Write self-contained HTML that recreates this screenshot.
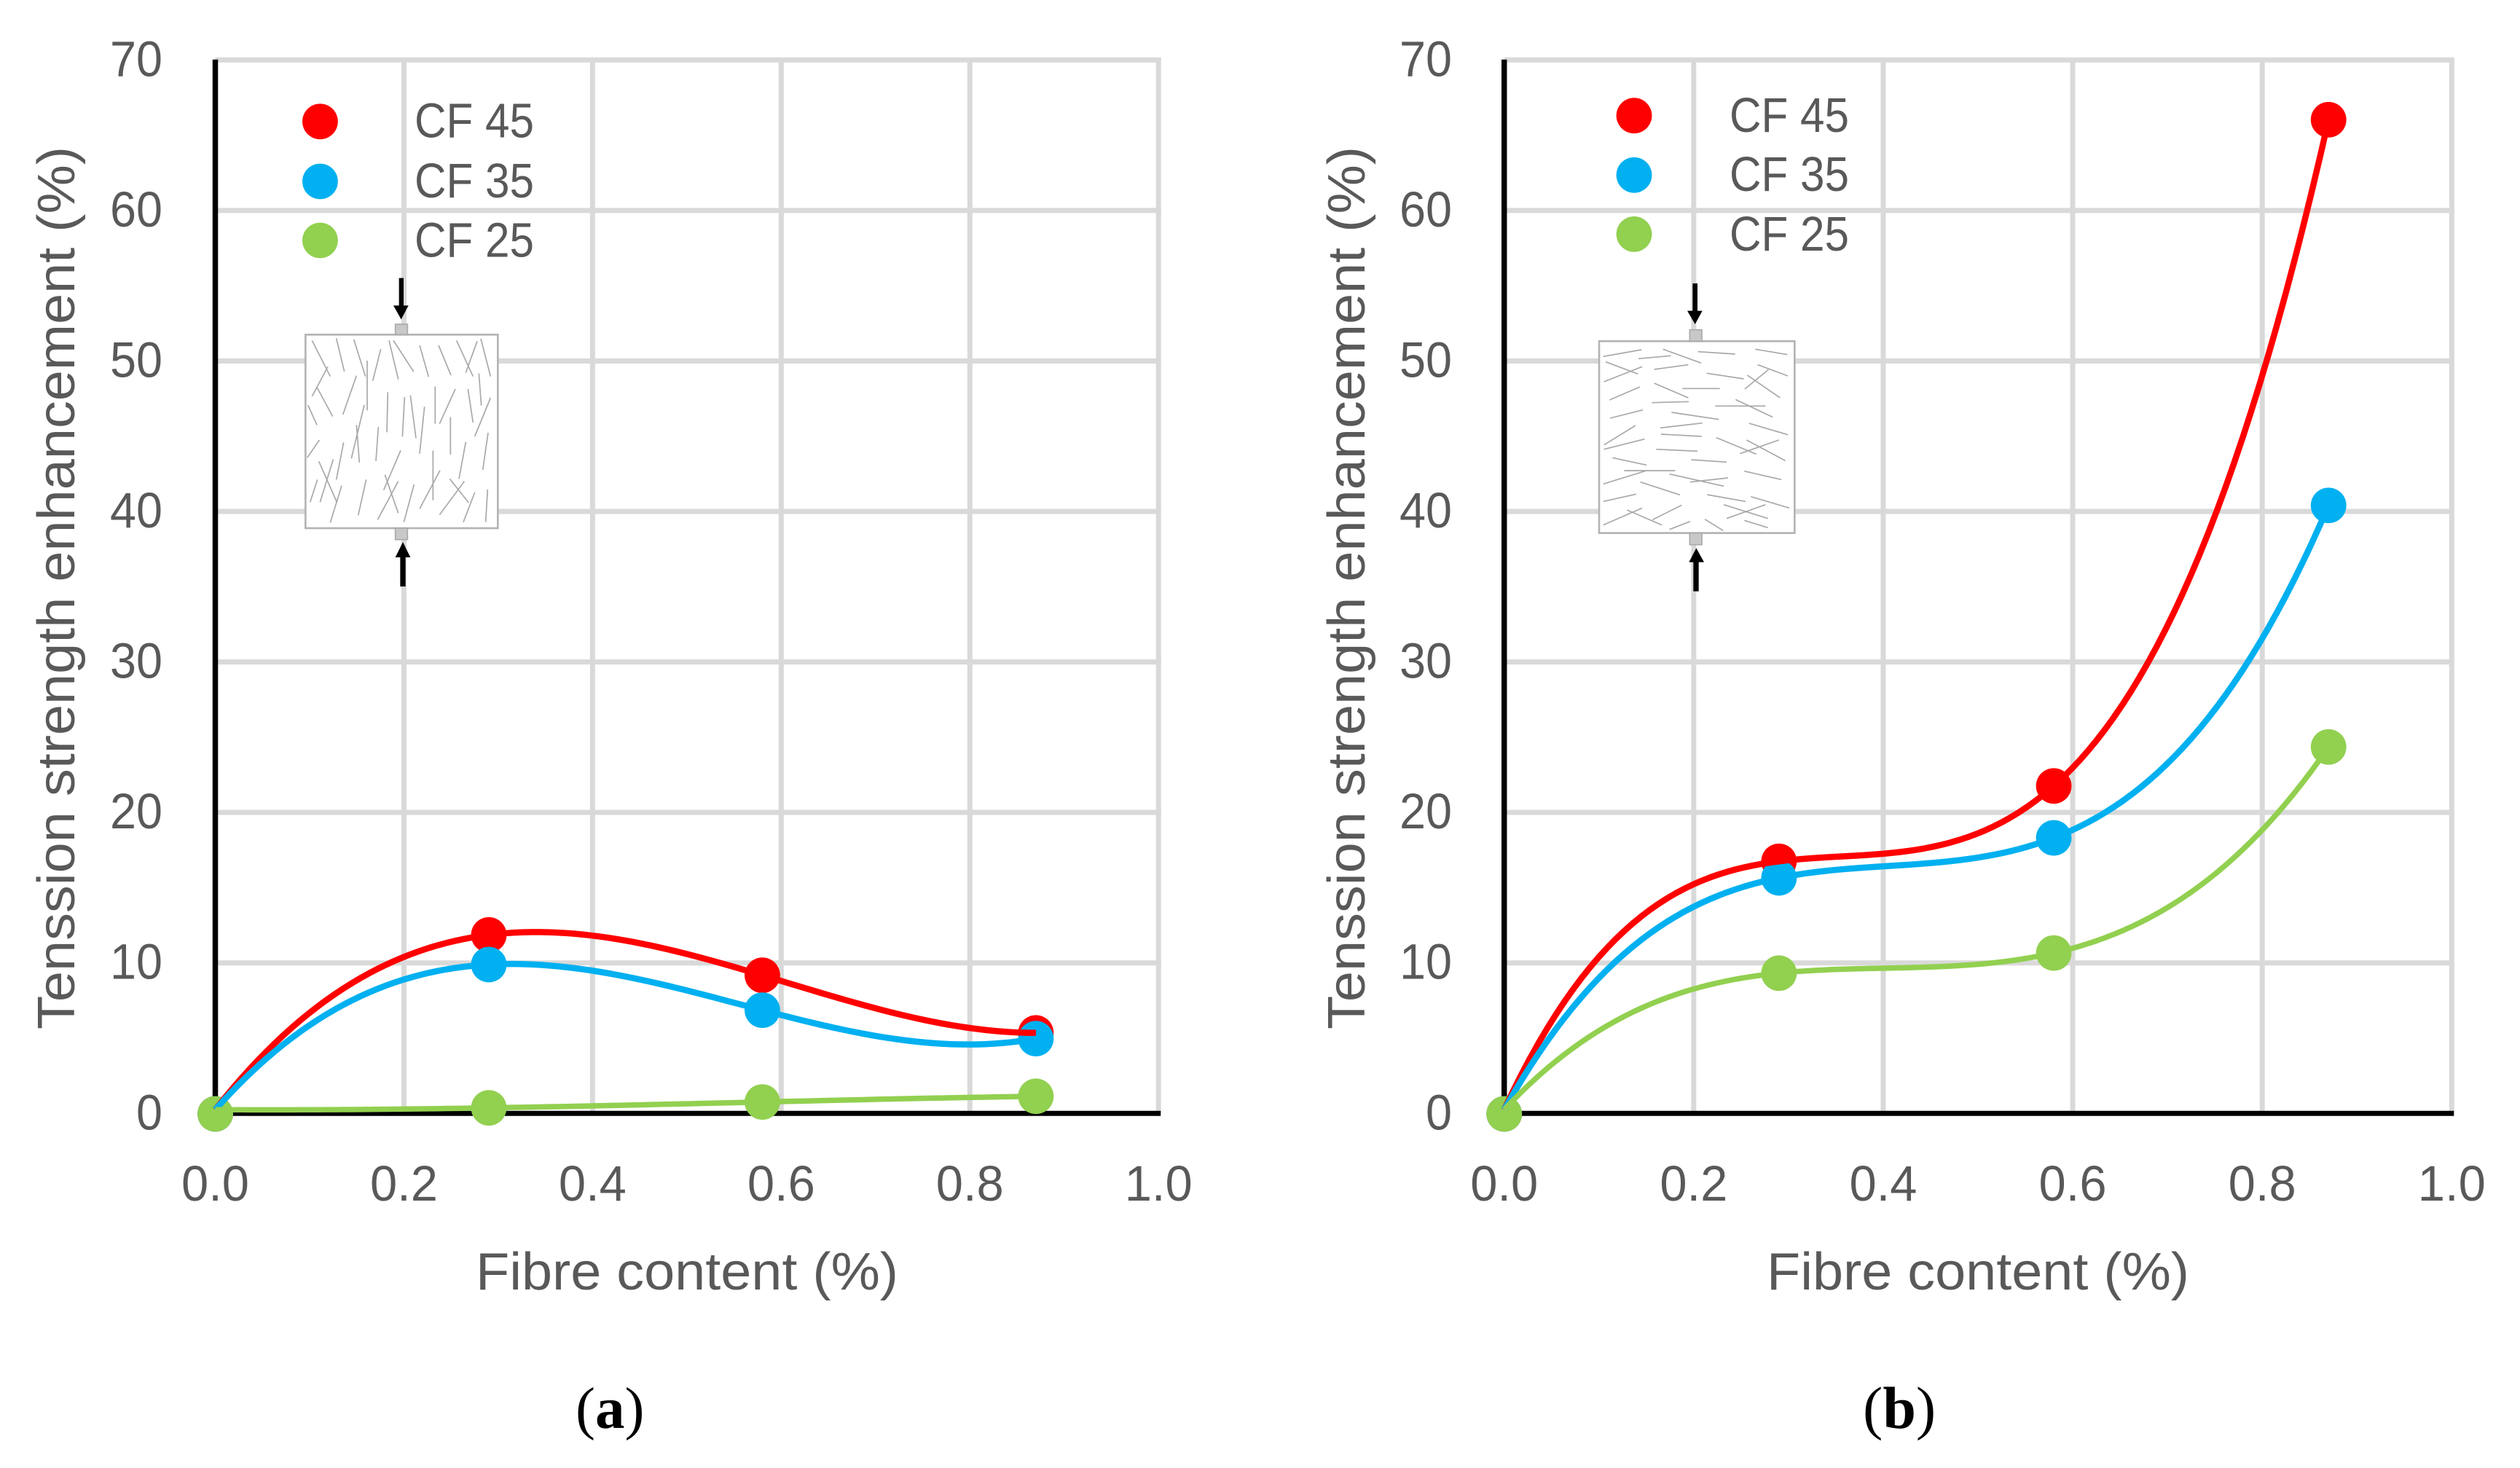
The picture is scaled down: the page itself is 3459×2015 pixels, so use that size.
<!DOCTYPE html>
<html lang="en">
<head>
<meta charset="utf-8">
<title>Tension strength enhancement vs fibre content</title>
<style>
html,body{margin:0;padding:0;background:#fff;}
svg{display:block;}
text{font-family:"Liberation Sans",sans-serif;fill:#595959;}
.serif{font-family:"Liberation Serif",serif;fill:#000;}
</style>
</head>
<body>
<svg id="figure" xmlns="http://www.w3.org/2000/svg" width="3459" height="2015" viewBox="0 0 3459 2015">
  <rect x="0" y="0" width="3459" height="2015" fill="#fff"/>
  <g id="panel-a"></g>
  <g id="panel-b"></g>
  <text class="serif" x="790" y="1960" font-size="81">(<tspan font-weight="bold">a</tspan>)</text>
  <text class="serif" x="2557" y="1960" font-size="82">(<tspan font-weight="bold">b</tspan>)</text>
</svg>
<script>
const yTickLabels = ['0','10','20','30','40','50','60','70'];
const xTickLabels = ['0.0','0.2','0.4','0.6','0.8','1.0'];
const fibreContent = [0, 0.29, 0.58, 0.87];
const seriesNames = ['CF 45','CF 35','CF 25'];
const panelAValues45 = [0, 11.86, 9.18, 5.35];
const panelAValues35 = [0, 9.89, 6.86, 4.97];
const panelAValues25 = [0, 0.37, 0.76, 1.14];
const panelBValues45 = [0, 16.75, 21.76, 66.03];
const panelBValues35 = [0, 15.65, 18.31, 40.4];
const panelBValues25 = [0, 9.32, 10.66, 24.35];
const trendlineIntercept = 0.25;
const seriesColors = ['#ff0000','#00b0f0','#92d050'];
const seriesWidths = [8.5, 8.5, 7.5];
const NS = 'http://www.w3.org/2000/svg';

function make(parent, tag, attrs, txt) {
  const el = document.createElementNS(NS, tag);
  for (const k in attrs) el.setAttribute(k, attrs[k]);
  if (txt !== undefined) el.textContent = txt;
  parent.appendChild(el);
  return el;
}

/* exact cubic trendline through the data points (Lagrange form) */
function trend(xs, ys, x) {
  let sum = 0;
  for (let i = 0; i < xs.length; i++) {
    let term = ys[i];
    for (let j = 0; j < xs.length; j++) {
      if (j !== i) term *= (x - xs[j]) / (xs[i] - xs[j]);
    }
    sum += term;
  }
  return sum;
}

function drawPanel(root, cfg) {
  const sx = v => cfg.x0 + cfg.xScale * v;
  const sy = v => 1528.3 - 20.657 * v;
  const gridColor = '#d9d9d9';

  yTickLabels.forEach(label => {
    const v = +label;
    if (v === 0) return;
    const el = make(root, 'line', {x1: sx(0), x2: sx(1) + 3.5, y1: sy(v), y2: sy(v), stroke: gridColor, 'stroke-width': 7});
    
    
  });
  xTickLabels.forEach(label => {
    const v = +label;
    if (v === 0) return;
    const el = make(root, 'line', {x1: sx(v), x2: sx(v), y1: sy(70), y2: sy(0), stroke: gridColor, 'stroke-width': 7});
    
    
  });

  const yAxis = make(root, 'line', {x1: sx(0), x2: sx(0), y1: sy(70) - 0.5, y2: sy(0) + 3.5, stroke: '#000', 'stroke-width': 7.5});
  
  
  const xAxis = make(root, 'line', {x1: sx(0), x2: sx(1) + 3, y1: sy(0), y2: sy(0), stroke: '#000', 'stroke-width': 7});
  
  

  yTickLabels.forEach(label => {
    const el = make(root, 'text', {x: cfg.yLabelRight, y: sy(+label) + 22, 'font-size': 69, 'text-anchor': 'end', textLength: label.length * 36, lengthAdjust: 'spacingAndGlyphs'}, label);
    
    
  });
  xTickLabels.forEach(label => {
    const el = make(root, 'text', {x: sx(+label), y: 1648, 'font-size': 69, 'text-anchor': 'middle', textLength: 93, lengthAdjust: 'spacingAndGlyphs'}, label);
    
    
  });

  const yTitle = make(root, 'text', {transform: 'translate(' + cfg.yTitleX + ',1413) rotate(-90)', x: 0, y: 0, 'font-size': 72, textLength: 1212, lengthAdjust: 'spacingAndGlyphs'}, 'Tenssion strength enhancement (%)');
  
  
  const xTitle = make(root, 'text', {x: cfg.xTitleX, y: 1770, 'font-size': 72, textLength: 580, lengthAdjust: 'spacingAndGlyphs'}, 'Fibre content (%)');
  
  

  /* specimen inset */
  const inset = make(root, 'g', {transform: 'translate(' + cfg.insetX + ',' + cfg.insetY + ') scale(0.33333)'});
  
  
  const b = cfg.inset;
  make(inset, 'rect', {x: b.box[0], y: b.box[1], width: b.box[2] - b.box[0], height: b.box[3] - b.box[1], fill: '#fff', stroke: '#b4b4b4', 'stroke-width': 8});
  make(inset, 'rect', {x: b.sq[0], y: b.top[0], width: b.sq[1] - b.sq[0], height: b.top[1] - b.top[0], fill: '#c8c8c8', stroke: '#aaa', 'stroke-width': 5});
  make(inset, 'rect', {x: b.sq[0], y: b.bot[0], width: b.sq[1] - b.sq[0], height: b.bot[1] - b.bot[0], fill: '#c8c8c8', stroke: '#aaa', 'stroke-width': 5});
  make(inset, 'path', {d: b.fibres, fill: 'none', stroke: '#a8a8a8', 'stroke-width': 5});
  make(inset, 'path', {d: b.arrows, fill: '#000', stroke: 'none'});

  /* legend */
  seriesNames.forEach((name, i) => {
    const dot = make(root, 'circle', {cx: cfg.legendDotX, cy: cfg.legendDotY[i], r: 24.4, fill: seriesColors[i]});
    
    
    const t = make(root, 'text', {x: cfg.legendTextX, y: cfg.legendTextY[i], 'font-size': 67, textLength: 164, lengthAdjust: 'spacingAndGlyphs'}, name);
    
    
  });

  /* markers below, trendlines above */
  cfg.series.forEach((vals, s) => {
    fibreContent.forEach((fc, i) => {
      const m = make(root, 'circle', {cx: sx(fc), cy: sy(vals[i]) + (i === 0 ? 0.7 : 0), r: 24.4, fill: seriesColors[s]});
      
      
    });
  });
  cfg.series.forEach((vals, s) => {
    const ys = vals.map((v, i) => i === 0 ? v + trendlineIntercept : v);
    const last = fibreContent[fibreContent.length - 1];
    const pts = [];
    for (let k = 0; k <= 96; k++) {
      const x = last * k / 96;
      pts.push(sx(x).toFixed(2) + ',' + sy(trend(fibreContent, ys, x)).toFixed(2));
    }
    const line = make(root, 'polyline', {points: pts.join(' '), fill: 'none', stroke: seriesColors[s], 'stroke-width': seriesWidths[s], 'stroke-linejoin': 'round'});
    
    
  });
}

drawPanel(document.getElementById('panel-a'), {
  x0: 295.5, xScale: 1294.7,
  yLabelRight: 223, yTitleX: 102, xTitleX: 653,
  legendDotX: 439.4, legendDotY: [166.8, 249, 330],
  legendTextX: 569, legendTextY: [188.5, 271, 352.5],
  insetX: 400, insetY: 370,
  inset: {
    box: [58, 268, 850, 1065], sq: [428, 478], top: [225, 268], bot: [1065, 1112],
    arrows: 'M443,35H462V148H482L452,205L420,148H443Z M448,1305H470V1185H490L459,1122L428,1185H448Z',
    fibres: 'M85,292L160,440M185,283L218,420M257,288L305,440M312,375L312,580M368,328L335,458M402,292L440,452M420,292L503,420M528,312L565,442M606,312L657,435M680,292L748,440M765,295L718,425M780,285L820,440M150,400L85,522M105,485L170,605M268,437L212,597M772,428L782,560M727,492L748,630M820,528L755,687M397,505L393,670M466,525L457,688M490,518L513,695M548,565L528,758M592,482L592,635M675,492L610,635M655,608L655,762M68,558L105,640M300,558L247,777M268,640L280,795M358,648L348,788M115,702L65,775M215,712L185,865M172,782L118,958M113,790L188,960M107,865L77,958M207,890L160,1042M308,865L275,1012M450,745L380,908M385,845L440,1003M440,872L355,1030M505,885L463,1040M583,745L583,950M612,827L528,985M718,710L690,862M810,672L788,825M652,862L730,960M712,872L610,1010M755,918L708,1040M808,905L800,1040'
  },
  series: [panelAValues45, panelAValues35, panelAValues25]
});

drawPanel(document.getElementById('panel-b'), {
  x0: 2064.7, xScale: 1300.6,
  yLabelRight: 1993, yTitleX: 1873, xTitleX: 2425,
  legendDotX: 2243, legendDotY: [158.7, 240.3, 321.4],
  legendTextX: 2374, legendTextY: [181, 262, 344],
  insetX: 2180, insetY: 380,
  inset: {
    box: [45, 265, 850, 1055], sq: [418, 468], top: [218, 265], bot: [1055, 1103],
    arrows: 'M430,27H450V140H470L440,195L408,140H430Z M433,1295H455V1175H477L445,1117L415,1175H433Z',
    fibres: 'M62,328L220,300M207,337L340,325M308,298L465,355M452,308L605,318M688,298L820,320M72,350L205,400M65,432L222,370M272,381L412,362M488,397L640,420M698,362L822,408M742,382L645,462M655,405L790,498M88,507L213,453M272,438L412,498M388,460L542,460M262,518L414,514M523,532L730,532M607,505L760,578M90,582L225,548M343,558L538,587M662,603L822,650M65,692L195,612M297,622L470,602M300,648L467,657M65,710L232,668M527,662L692,730M652,672L812,757M785,672L625,728M280,710L450,718M100,745L240,775M425,753L570,763M148,798L358,798M62,853L240,798M335,812L558,862M420,845L575,828M643,800L795,835M215,845L378,898M62,925L197,895M490,897L648,925M670,905L828,952M558,938L740,995M730,938L570,995M62,1022L222,952M160,960L303,1022M385,940L265,1000M335,1040L420,1007M480,998L556,1045M643,1003L740,1033'
  },
  series: [panelBValues45, panelBValues35, panelBValues25]
});
</script>
</body>
</html>
